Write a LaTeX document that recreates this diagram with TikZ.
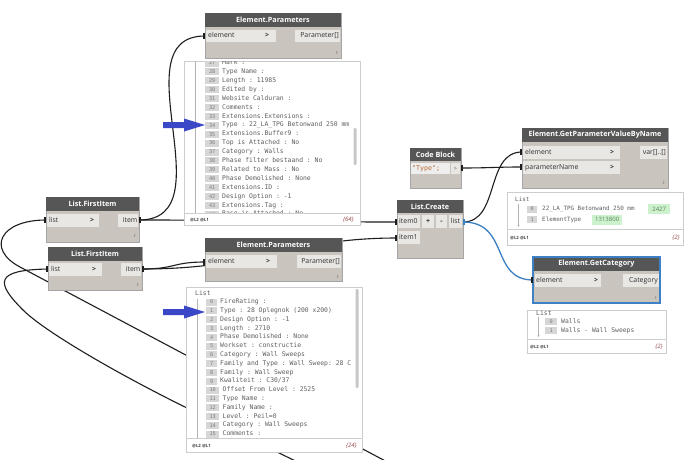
\documentclass[tikz,border=0pt]{standalone}
\usepackage{fontspec}
\setmainfont{Open Sans}
\setmonofont{DejaVu Sans Mono}
\usetikzlibrary{arrows.meta}
\definecolor{hdr}{RGB}{86,86,86}
\definecolor{bodyc}{RGB}{201,197,190}
\definecolor{portc}{RGB}{233,231,228}
\definecolor{nborder}{RGB}{165,165,165}
\definecolor{lborder}{RGB}{205,205,205}
\definecolor{idxbg}{RGB}{214,214,214}
\definecolor{idxfg}{RGB}{125,125,125}
\definecolor{ltext}{RGB}{95,95,95}
\definecolor{wire}{RGB}{30,30,30}
\definecolor{selblue}{RGB}{62,128,196}
\definecolor{arrowblue}{RGB}{58,72,200}
\definecolor{greenbg}{RGB}{205,240,205}
\definecolor{greenfg}{RGB}{85,135,85}
\definecolor{codec}{RGB}{185,105,55}
\definecolor{cntc}{RGB}{150,70,70}
\definecolor{codebg}{RGB}{238,238,238}
\begin{document}
\begin{tikzpicture}[x=1pt,y=-1pt,
  wirel/.style={draw=wire, line width=1.1pt},
  bwire/.style={draw=selblue, line width=1.3pt},
  nbody/.style={fill=bodyc, draw=nborder, line width=0.4pt},
  selbody/.style={fill=bodyc, draw=selblue, line width=1.2pt},
  nhead/.style={fill=hdr},
  pbox/.style={fill=portc},
  cbox/.style={fill=codebg},
  htext/.style={text=white, font=\fontsize{7.2}{8}\selectfont\bfseries, inner sep=0pt},
  ptext/.style={text=black!80, font=\fontsize{6.9}{7}\selectfont, inner sep=0pt, text height=5pt, text depth=1.4pt},
  lace/.style={text=black!70, font=\fontsize{4.5}{5}\selectfont, inner sep=0pt},
  lbox/.style={fill=white, draw=lborder, line width=0.6pt},
  ltxt/.style={text=ltext, font=\ttfamily\fontsize{6.4}{7}\selectfont, inner sep=0pt, anchor=west, text height=4.6pt, text depth=1.3pt},
  ltxs/.style={text=ltext, font=\ttfamily\fontsize{5.9}{7}\selectfont, inner sep=0pt, anchor=west, text height=4.3pt, text depth=1.2pt},
  idxn/.style={fill=idxbg, text=idxfg, font=\ttfamily\fontsize{5.2}{6}\selectfont, inner sep=0pt, minimum height=7pt, anchor=west},
  foot/.style={text=black!75, font=\fontsize{4.3}{5}\selectfont\bfseries, inner sep=0pt, anchor=west},
  cnt/.style={text=cntc, font=\itshape\fontsize{6}{7}\selectfont, inner sep=0pt, anchor=east},
  tree/.style={draw=black!30, line width=0.5pt},
  scrollb/.style={fill=black!22, rounded corners=1.2pt},
  bigarrow/.style={fill=arrowblue},
  pmark/.style={fill=wire},
  gbox/.style={fill=greenbg, text=greenfg, font=\fontsize{6}{7}\selectfont, inner sep=0pt, minimum height=10pt, anchor=west},
  codet/.style={text=codec, font=\ttfamily\fontsize{6.6}{7}\selectfont, inner sep=0pt, anchor=west}
]
\useasboundingbox (0,0) rectangle (690,460);
\clip (0,0) rectangle (690,460);
\fill[white] (0,0) rectangle (690,460);

% ---------- port coordinates ----------
\coordinate (FI1in) at (46,220);
\coordinate (FI1out) at (139,220);
\coordinate (FI2in) at (48,269);
\coordinate (FI2out) at (142,269);
\coordinate (EP1in) at (205,36);
\coordinate (EP2in) at (205,262);
\coordinate (LCin0) at (397,222);
\coordinate (LCin1) at (397,238);
\coordinate (LCout) at (463,222);
\coordinate (CBout) at (461,168);
\coordinate (GPVin0) at (522,152);
\coordinate (GPVin1) at (522,167);
\coordinate (GCin) at (533,280);
\coordinate (aBend) at (20,267);
\coordinate (offA) at (440,490);
\coordinate (bBend1) at (23,310);
\coordinate (bBend2) at (185,407);
\coordinate (offB) at (320,473);

% ---------- wires ----------
\draw[wirel] (FI1out) .. controls (228,220) and (118,36) .. (EP1in);
\draw[wirel] (FI1out) .. controls (260,220) and (280,222) .. (LCin0);
\draw[wirel] (FI2out) .. controls (176,269) and (172,262) .. (EP2in);
\draw[wirel] (FI2out) .. controls (260,269) and (290,238) .. (LCin1);
\draw[wirel] (FI1in) .. controls (0,220) and (-14,249) .. (aBend) -- (offA);
\draw[wirel] (FI2in) .. controls (-5,270) and (-5,282) .. (bBend1) .. controls (45,332) and (120,375) .. (bBend2) -- (offB);
\draw[wirel] (LCout) .. controls (500,222) and (485,152) .. (GPVin0);
\draw[wirel] (CBout) .. controls (490,168) and (495,167) .. (GPVin1);
\draw[bwire] (LCout) .. controls (510,222) and (490,280) .. (GCin);

% ---------- Element.Parameters (top) ----------
\path[nbody] (205,13) rectangle (341,58);
\path[nhead] (205,13) rectangle (341,27);
\path[pbox] (206,30) rectangle (276,42);
\path[pbox] (295,30) rectangle (340,42);
\node[htext] (EP1t) at (273,20) {Element.Parameters};
\node[ptext, anchor=west] (EP1a) at (208,36) {element};
\node[ptext] (EP1g) at (267,36) {\textbf{>}};
\node[ptext, anchor=east] (EP1b) at (339,36) {Parameter[]};
\node[lace] (EP1l) at (337,53) {I};

% ---------- Element.Parameters (bottom) ----------
\path[nbody] (205,238) rectangle (342,281);
\path[nhead] (205,238) rectangle (342,252);
\path[pbox] (206,255) rectangle (277,268);
\path[pbox] (297,255) rectangle (341,268);
\node[htext] (EP2t) at (273.5,245) {Element.Parameters};
\node[ptext, anchor=west] (EP2a) at (208,261.5) {element};
\node[ptext] (EP2g) at (268,261.5) {\textbf{>}};
\node[ptext, anchor=east] (EP2b) at (340,261.5) {Parameter[]};
\node[lace] (EP2l) at (338,277) {I};

% ---------- List.FirstItem (top) ----------
\path[nbody] (46,197) rectangle (139,242);
\path[nhead] (46,197) rectangle (139,211);
\path[pbox] (47,214) rectangle (99,227);
\path[pbox] (118,214) rectangle (138,227);
\node[htext] (FI1t) at (92.5,204) {List.FirstItem};
\node[ptext, anchor=west] (FI1a) at (49,220.5) {list};
\node[ptext] (FI1g) at (92,220.5) {\textbf{>}};
\node[ptext, anchor=east] (FI1b) at (137.5,220.5) {item};
\node[lace] (FI1l) at (135,236) {I};

% ---------- List.FirstItem (bottom) ----------
\path[nbody] (48,247) rectangle (142,290);
\path[nhead] (48,247) rectangle (142,261);
\path[pbox] (49,263) rectangle (102,276);
\path[pbox] (121,263) rectangle (141,276);
\node[htext] (FI2t) at (95,254) {List.FirstItem};
\node[ptext, anchor=west] (FI2a) at (51,269.5) {list};
\node[ptext] (FI2g) at (94,269.5) {\textbf{>}};
\node[ptext, anchor=east] (FI2b) at (140.5,269.5) {item};
\node[lace] (FI2l) at (138,285) {I};

% ---------- Code Block ----------
\path[nbody] (410,148) rectangle (461,188);
\path[nhead] (410,148) rectangle (461,161);
\path[cbox] (411,163) rectangle (450,174);
\path[pbox] (451,163) rectangle (460,174);
\node[htext] (CBt) at (435.5,154.5) {Code Block};
\node[codet] (CBc) at (412,168.5) {"Type";};
\node[ptext, font=\fontsize{5}{6}\selectfont] (CBg) at (455.5,168.5) {>};

% ---------- Element.GetParameterValueByName ----------
\path[nbody] (522,128) rectangle (668,188);
\path[nhead] (522,128) rectangle (668,142);
\path[pbox] (523,146) rectangle (620,159);
\path[pbox] (523,161) rectangle (620,174);
\path[pbox] (640,146) rectangle (667,159);
\node[htext] (GPVt) at (595,135) {Element.GetParameterValueByName};
\node[ptext, anchor=west] (GPVa) at (525,152.5) {element};
\node[ptext] (GPVg1) at (612,152.5) {\textbf{>}};
\node[ptext, anchor=west] (GPVb) at (525,167.5) {parameterName};
\node[ptext] (GPVg2) at (612,167.5) {\textbf{>}};
\node[ptext, anchor=east] (GPVc) at (666,152.5) {var[]..[]};
\node[lace] (GPVl) at (664,183) {I};

% ---------- List.Create ----------
\path[nbody] (397,200) rectangle (463,258);
\path[nhead] (397,200) rectangle (463,213);
\path[pbox] (398,215) rectangle (420,228);
\path[pbox] (422,215) rectangle (434,228);
\path[pbox] (436,215) rectangle (447,228);
\path[pbox] (449,215) rectangle (462,228);
\path[pbox] (398,231) rectangle (420,244);
\node[htext] (LCt) at (430,206.5) {List.Create};
\node[ptext, anchor=west] (LCa) at (399,222) {item0};
\node[ptext] (LCp) at (428,222) {\textbf{+}};
\node[ptext] (LCm) at (441.5,222) {\textbf{-}};
\node[ptext] (LCo) at (455.5,222) {list};
\node[ptext, anchor=west] (LCb) at (399,238) {item1};

% ---------- Element.GetCategory ----------
\path[selbody] (533,257) rectangle (660,303);
\path[nhead] (533.6,257.6) rectangle (659.4,271);
\path[pbox] (534.5,274) rectangle (601,287);
\path[pbox] (623,274) rectangle (659,287);
\node[htext] (GCt) at (596.5,264) {Element.GetCategory};
\node[ptext, anchor=west] (GCa) at (536,280.5) {element};
\node[ptext] (GCg) at (596,280.5) {\textbf{>}};
\node[ptext, anchor=east] (GCb) at (658,280.5) {Category};
\node[lace] (GCl) at (656,298) {I};

% ---------- port markers ----------
\foreach \p in {EP1in,EP2in,LCin0,LCin1,GPVin0,GPVin1,GCin,FI1in,FI2in}
  \fill[pmark] (\p) ++(-2.2,-2.8) rectangle ++(2.6,5.6);
\foreach \p in {FI1out,FI2out,CBout}
  \fill[pmark] (\p) ++(-0.4,-2.8) rectangle ++(2.4,5.6);
\fill[selblue] (LCout) ++(-0.4,-2.8) rectangle ++(2.4,5.6);

% ---------- watch list (top) ----------
\path[lbox] (184,61) rectangle (360,225);
\begin{scope}
\clip (184.5,61.5) rectangle (359.5,213);
\draw[tree] (195,61) -- (195,213);
\foreach \n/\t in {27/{Mark :},28/{Type Name :},29/{Length : 11985},30/{Edited by :},31/{Website Calduran :},32/{Comments :},33/{Extensions.Extensions :},34/{Type : 22\_LA\_TPG Betonwand 250 mm},35/{Extensions.Buffer9 :},36/{Top is Attached : No},37/{Category : Walls},38/{Phase filter bestaand : No},39/{Related to Mass : No},40/{Phase Demolished : None},41/{Extensions.ID :},42/{Design Option : -1},43/{Extensions.Tag :},44/{Base is Attached : No}}{
  \pgfmathsetmacro\yy{63+(\n-27)*8.9}
  \node[idxn, minimum width=14pt] (ta\n) at (205,\yy) {\n};
  \node[ltxt] (tb\n) at (222,\yy) {\t};
}
\end{scope}
\draw[lborder, line width=0.6pt] (184,213) -- (360,213);
\path[scrollb] (353.5,128) rectangle (356.5,165);
\node[foot] (T1f) at (190,220) {@L2 @L1};
\node[cnt] (T1c) at (354,220) {\{64\}};

% ---------- watch list (bottom) ----------
\path[lbox] (186,287) rectangle (362,452);
\node[ltxt] (B1h) at (195,294) {List};
\begin{scope}
\clip (186.5,287.5) rectangle (361.5,438);
\draw[tree] (197,299) -- (197,438);
\foreach \n/\t in {0/{FireRating :},1/{Type : 28 Oplegnok (200 x200)},2/{Design Option : -1},3/{Length : 2710},4/{Phase Demolished : None},5/{Workset : constructie},6/{Category : Wall Sweeps},7/{Family and Type : Wall Sweep: 28 C},8/{Family : Wall Sweep},9/{Kwaliteit : C30/37}}{
  \pgfmathsetmacro\yy{302+\n*8.8}
  \node[idxn, minimum width=11pt] (ba\n) at (206,\yy) {\n};
  \node[ltxt] (bb\n) at (220,\yy) {\t};
}
\foreach \n/\t in {10/{Offset From Level : 2525},11/{Type Name :},12/{Family Name :},13/{Level : Peil=0},14/{Category : Wall Sweeps},15/{Comments :}}{
  \pgfmathsetmacro\yy{302+\n*8.8}
  \node[idxn, minimum width=13pt] (ba\n) at (206,\yy) {\n};
  \node[ltxt] (bb\n) at (222.5,\yy) {\t};
}
\end{scope}
\draw[lborder, line width=0.6pt] (186,438) -- (362,438);
\path[scrollb] (355.5,289) rectangle (358.5,388);
\node[foot] (B1f) at (192,446) {@L2 @L1};
\node[cnt] (B1c) at (357,446) {\{24\}};

% ---------- watch list (GetParameterValueByName) ----------
\path[lbox] (507,192) rectangle (683,245);
\node[ltxs] (G1h) at (515,200) {List};
\draw[tree, -{Stealth[length=2pt,width=2pt]}] (518.5,204) -- (518.5,227);
\node[idxn, minimum width=10pt] (G1a0) at (527,209) {0};
\node[ltxs] (G1b0) at (542,209) {22\_LA\_TPG Betonwand 250 mm};
\node[gbox, minimum width=22pt] (G1g0) at (648,209) {2427};
\node[idxn, minimum width=10pt] (G1a1) at (527,219.5) {1};
\node[ltxs] (G1b1) at (542,219.5) {ElementType};
\node[gbox, minimum width=30pt] (G1g1) at (592,219.5) {1313800};
\draw[lborder, line width=0.6pt] (507,229) -- (683,229);
\node[foot] (G1f) at (510,238) {@L2 @L1};
\node[cnt] (G1c) at (680,238) {\{2\}};

% ---------- watch list (GetCategory) ----------
\path[lbox] (527,310) rectangle (666,353);
\node[ltxt] (C1h) at (536,313.5) {List};
\draw[tree, -{Stealth[length=2pt,width=2pt]}] (538.5,317) -- (538.5,337);
\node[idxn, minimum width=12pt] (C1a0) at (545,321.5) {0};
\node[ltxt] (C1b0) at (561,321.5) {Walls};
\node[idxn, minimum width=12pt] (C1a1) at (545,330.5) {1};
\node[ltxt] (C1b1) at (561,330.5) {Walls - Wall Sweeps};
\draw[lborder, line width=0.6pt] (527,339) -- (666,339);
\node[foot] (C1f) at (530,347) {@L2 @L1};
\node[cnt] (C1c) at (663,347) {\{2\}};

% ---------- blue pointer arrows ----------
\path[bigarrow] (163,122) -- (184,122) -- (184,118.5) -- (205,125) -- (184,131.5) -- (184,128) -- (163,128) -- cycle;
\path[bigarrow] (163,309) -- (184,309) -- (184,305.5) -- (205,312) -- (184,318.5) -- (184,315) -- (163,315) -- cycle;
\end{tikzpicture}
\end{document}
